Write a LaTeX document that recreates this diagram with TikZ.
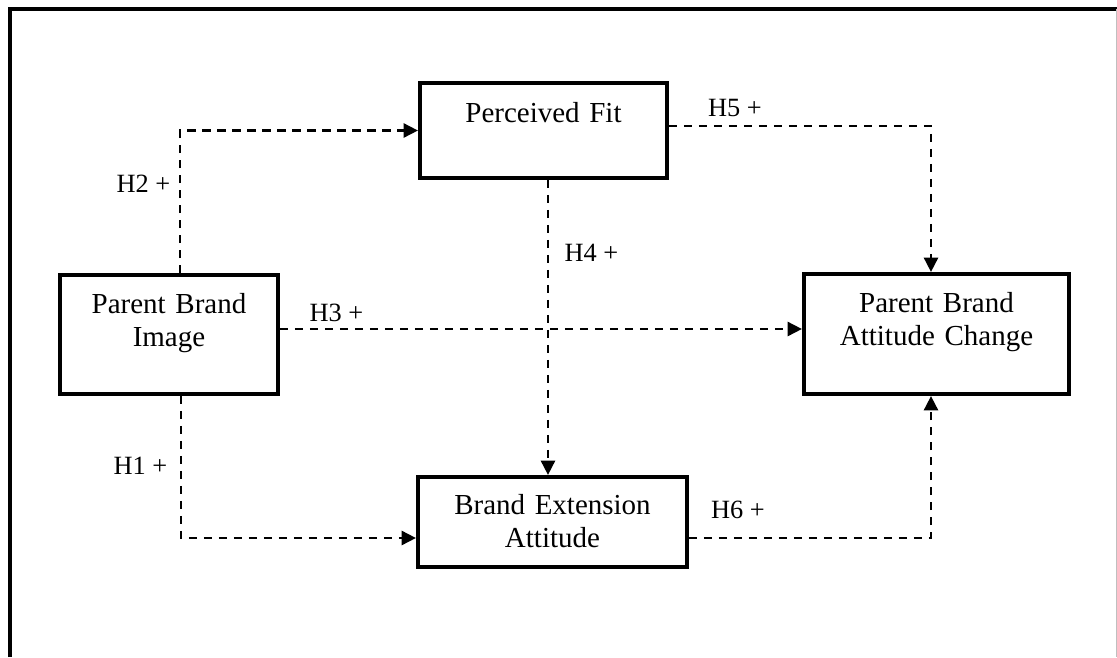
\documentclass[tikz,border=0pt]{standalone}
\usepackage{fontspec}
\setmainfont{Liberation Serif}
\usetikzlibrary{arrows.meta}

\begin{document}
\begin{tikzpicture}[
  x=0.02cm, y=-0.02cm,
  box/.style={draw, line width=0.08cm, inner sep=0pt, align=center,
    font=\fontsize{16.5}{19.3}\selectfont, text height=0.76cm},
  link/.style={-{Triangle[length=0.29cm, width=0.28cm]}, line width=0.058cm,
    dash pattern=on 0.17cm off 0.13cm},
  hyp/.style={font=\fontsize{15}{18}\selectfont, inner sep=0pt}
]
\useasboundingbox (0,0) rectangle (1117,657);

% Frame
\draw[line width=0.08cm] (10.3,657) -- (10.3,8.7) -- (1117,8.7);
\draw[black!25, line width=0.02cm] (1116,8.7) -- (1116,657);

% Constructs
\node[box, text width=4.94cm, text height=0.78cm, text depth=1.12cm] (fit) at (543.5,130.5) {Perceived Fit};
\node[box, text width=4.36cm, text depth=1.62cm] (img) at (169,334.5) {Parent Brand\\Image};
\node[box, text width=5.30cm, text depth=1.64cm] (att) at (936.5,334) {Parent Brand\\Attitude Change};
\node[box, text width=5.38cm, text height=0.74cm, text depth=1.06cm] (ext) at (552.5,522) {Brand Extension\\Attitude};

% Paths
\coordinate (h2s) at ([xshift=0.22cm]img.north);
\draw[link] (h2s) |- (fit.west);

\coordinate (h3s) at ([yshift=0.11cm]img.east);
\draw[link] (h3s) -- (h3s -| att.west);

\coordinate (h4s) at ([xshift=0.09cm]fit.south);
\draw[link] (h4s) -- (h4s |- ext.north);

\coordinate (h5s) at ([yshift=0.09cm]fit.east);
\coordinate (h5e) at ([xshift=-0.11cm]att.north);
\draw[link] (h5s) -| (h5e);

\coordinate (h1s) at ([xshift=0.24cm]img.south);
\coordinate (h1e) at ([yshift=-0.32cm]ext.west);
\draw[link] (h1s) |- (h1e);

\coordinate (h6s) at ([yshift=-0.32cm]ext.east);
\coordinate (h6e) at ([xshift=-0.11cm]att.south);
\draw[link] (h6s) -| (h6e);

% Hypotheses
\node[hyp] (l2) at (143.5,184) {H2 +};
\node[hyp] (l3) at (336.5,313) {H3 +};
\node[hyp] (l4) at (591.5,253) {H4 +};
\node[hyp] (l5) at (735,108) {H5 +};
\node[hyp] (l1) at (140.5,466) {H1 +};
\node[hyp] (l6) at (738,510) {H6 +};

\end{tikzpicture}
\end{document}
